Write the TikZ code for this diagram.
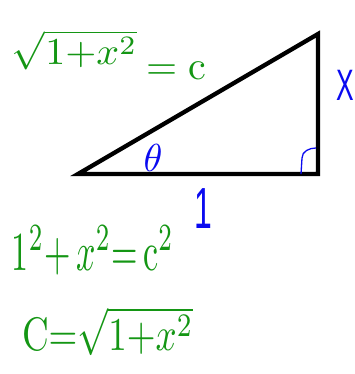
\documentclass[tikz,border=0pt]{standalone}
\usepackage{fontspec}
\newfontfamily\hand{Liberation Sans}
\definecolor{pengreen}{RGB}{20,150,20}
\definecolor{penblue}{RGB}{10,10,240}
\begin{document}
\begin{tikzpicture}[x=1pt,y=-1pt,
  greentext/.style={text=pengreen,inner sep=0pt,outer sep=0pt,font=\fontsize{10}{10}\selectfont},
  bluetext/.style={text=penblue,inner sep=0pt,outer sep=0pt},
  edge/.style={line width=4.3pt,line join=miter,line cap=butt}]
\useasboundingbox (0,0) rectangle (355,374);
% triangle
\coordinate (A) at (78,174);
\coordinate (B) at (318,174);
\coordinate (C) at (318,34);
\draw[edge] (A) -- (B) -- (C) -- cycle;
% right angle mark
\coordinate (r1) at (301,174);
\coordinate (r2) at (316,148);
\draw[penblue,line width=1.3pt] (r1) -- (302,158) to[out=90,in=180] (r2);
% labels
\node[bluetext,font=\fontsize{10}{10}\selectfont,xscale=3.8,yscale=3.9] (th) at (153,158) {$\theta$};
\node[bluetext,font=\hand\fontsize{44}{44}\selectfont,xscale=0.6] (xl) at (345,85) {X};
\node[bluetext,font=\hand\fontsize{58}{58}\selectfont,xscale=0.55] (one) at (203,209) {1};
% green equations
\node[greentext,anchor=base west,xscale=4,yscale=3.8] (eq1) at (12,65) {$\sqrt{1{+}x^2}$};
\node[greentext,anchor=base west,scale=4] (eq1b) at (146,80) {$={\mathrm{c}}$};
\node[greentext,anchor=base west,xscale=3.4,yscale=5.5] (eq2) at (12,270) {$1^2{+}\,x^2{=}\,\mathrm{c}^2$};
\node[greentext,anchor=base west,xscale=3.7,yscale=4.7] (eq3) at (22,350) {$\mathrm{C}{=}\sqrt{1{+}x^2}$};
\end{tikzpicture}
\end{document}
